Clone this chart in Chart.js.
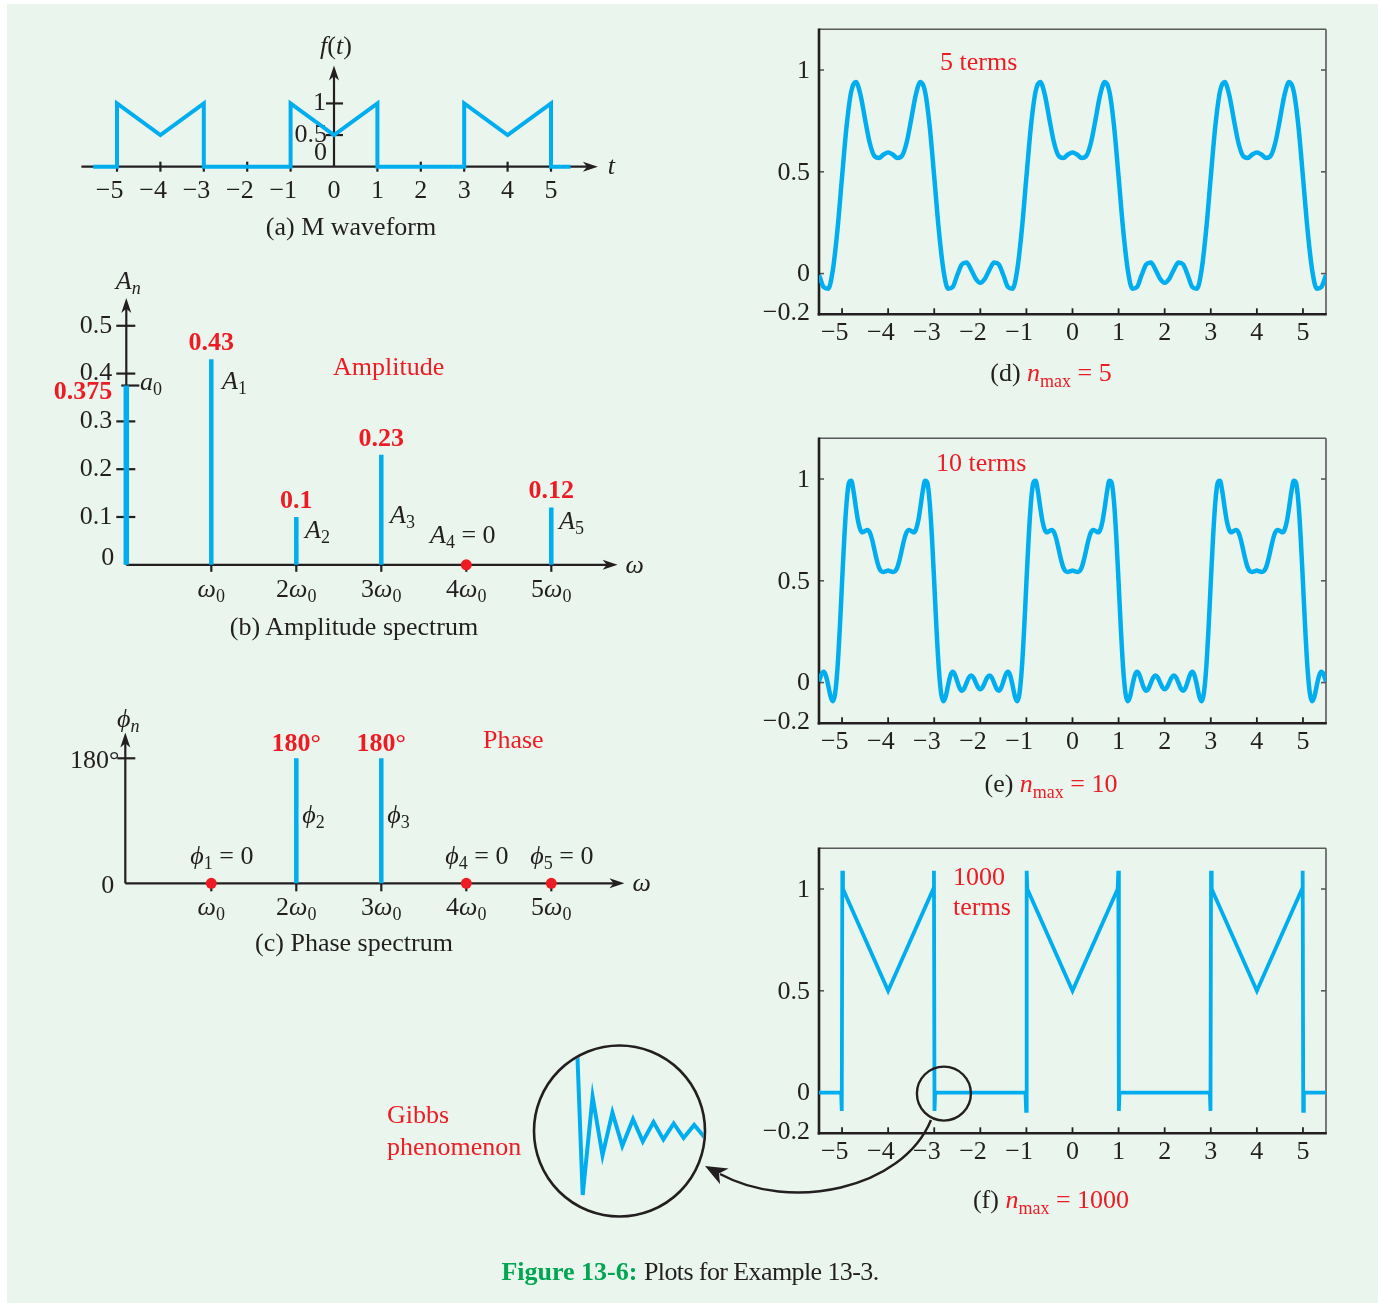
<!DOCTYPE html>
<html lang="en">
<head>
<meta charset="UTF-8">
<title>Figure 13-6: Plots for Example 13-3</title>
<script src="https://cdn.jsdelivr.net/npm/chart.js"></script>
<style>
  html, body { margin: 0; padding: 0; background: #fff; }
  #page { position: relative; width: 1378px; height: 1303px; overflow: hidden; background: #fff;
          font-family: "Liberation Serif", "Times New Roman", serif; color: #231F20; }
  #bg { position: absolute; left: 7px; top: 4px; right: 0; bottom: 0; background: #EAF5EE; }
  canvas.layer { position: absolute; left: 0; top: 0; }
  .cap { position: absolute; font-size: 26px; line-height: 1; white-space: nowrap; transform: translate(-50%, -50%); }
  .lbl { position: absolute; font-size: 26px; line-height: 1; white-space: nowrap; transform: translateY(-50%); }
  .red { color: #ED1C24; }
  sub { font-size: 18px; vertical-align: -6px; line-height: 0; }
</style>
</head>
<body>
<div id="page">
  <div id="bg"></div>
  <canvas id="cA" class="layer" width="1378" height="1303"></canvas>
  <canvas id="cB" class="layer" width="1378" height="1303"></canvas>
  <canvas id="cC" class="layer" width="1378" height="1303"></canvas>
  <canvas id="cD" class="layer" width="1378" height="1303"></canvas>
  <canvas id="cE" class="layer" width="1378" height="1303"></canvas>
  <canvas id="cF" class="layer" width="1378" height="1303"></canvas>
  <canvas id="cG" class="layer" width="1378" height="1303"></canvas>

  <!-- captions -->
  <div class="cap" style="left:351px;top:227px">(a) M waveform</div>
  <div class="cap" style="left:354px;top:627px">(b) Amplitude spectrum</div>
  <div class="cap" style="left:354px;top:943px">(c) Phase spectrum</div>
  <div class="cap" style="left:1051px;top:373px">(d) <span class="red"><i>n</i><sub>max</sub> = 5</span></div>
  <div class="cap" style="left:1051px;top:784px">(e) <span class="red"><i>n</i><sub>max</sub> = 10</span></div>
  <div class="cap" style="left:1051px;top:1200px">(f) <span class="red"><i>n</i><sub>max</sub> = 1000</span></div>

  <div class="lbl red" style="left:940px;top:62px">5 terms</div>
  <div class="lbl red" style="left:936px;top:463px">10 terms</div>
  <div class="lbl red" style="left:953px;top:877px">1000</div>
  <div class="lbl red" style="left:953px;top:907px">terms</div>
  <div class="lbl red" style="left:333px;top:367px">Amplitude</div>
  <div class="lbl red" style="left:483px;top:740px">Phase</div>
  <div class="lbl red" style="left:387px;top:1115px">Gibbs</div>
  <div class="lbl red" style="left:387px;top:1147px">phenomenon</div>

  <div class="cap" style="left:690px;top:1272px"><b style="color:#00A651">Figure 13-6:</b> <span style="letter-spacing:-0.6px">Plots for Example 13-3.</span></div>
</div>

<script>
    const W = 1378, H = 1303;
    const INK = '#231F20', BLUE = '#00AEEF', RED = '#ED1C24';
    const SERIF = '"Liberation Serif", "Times New Roman", serif';

    // (a) M waveform
    const mT = [-5.55, -5, -5, -4, -3, -3, -1, -1, 0, 1, 1, 3, 3, 4, 5, 5, 5.45];
    const mF = [0, 0, 1, 0.5, 1, 0, 0, 1, 0.5, 1, 0, 0, 1, 0.5, 1, 0, 0];
    const waveTicks = [-5, -4, -3, -2, -1, 0, 1, 2, 3, 4, 5];
    const waveLevels = [0.5, 1];

    // (b) amplitude and (c) phase spectra
    const harmonics = [1, 2, 3, 4, 5];
    const dcTerm = 0.375;
    const amps = [0.43, 0.1, 0.23, 0, 0.12];
    const ampTicks = [0.1, 0.2, 0.3, 0.4, 0.5];
    const phases = [0, 180, 180, 0, 0];

    // (d) 5 terms, sampled every 0.1 from t = -5.5
    const stepD = 0.1;
    const yD = [
        -0.007, -0.066, -0.074, 0.017, 0.214, 0.475, 0.727, 0.895, 0.941, 0.878, 0.757, 0.643, 0.578, 0.568, 0.585, 0.595,
        0.585, 0.568, 0.578, 0.643, 0.757, 0.878, 0.941, 0.895, 0.727, 0.475, 0.214, 0.017, -0.074, -0.066, -0.007, 0.045, 0.054, 0.020, -0.025, -0.045,
        -0.025, 0.020, 0.054, 0.045, -0.007, -0.066, -0.074, 0.017, 0.214, 0.475, 0.727, 0.895, 0.941, 0.878, 0.757, 0.643, 0.578, 0.568, 0.585, 0.595,
        0.585, 0.568, 0.578, 0.643, 0.757, 0.878, 0.941, 0.895, 0.727, 0.475, 0.214, 0.017, -0.074, -0.066, -0.007, 0.045, 0.054, 0.020, -0.025, -0.045,
        -0.025, 0.020, 0.054, 0.045, -0.007, -0.066, -0.074, 0.017, 0.214, 0.475, 0.727, 0.895, 0.941, 0.878, 0.757, 0.643, 0.578, 0.568, 0.585, 0.595,
        0.585, 0.568, 0.578, 0.643, 0.757, 0.878, 0.941, 0.895, 0.727, 0.475, 0.214, 0.017, -0.074, -0.066, -0.007
    ];

    // (e) 10 terms, sampled every 0.05 from t = -5.5
    const stepE = 0.05;
    const yE = [
        0.005, 0.039, 0.053, 0.034, -0.014, -0.068, -0.092, -0.053, 0.067, 0.260, 0.492, 0.716, 0.889, 0.981, 0.991, 0.939,
        0.861, 0.791, 0.749, 0.738, 0.745, 0.750, 0.738, 0.704, 0.655, 0.605, 0.566, 0.547, 0.543, 0.547, 0.550,
        0.547, 0.543, 0.547, 0.566, 0.605, 0.655, 0.704, 0.738, 0.750, 0.745, 0.738, 0.749, 0.791, 0.861, 0.939, 0.991,
        0.981, 0.889, 0.716, 0.492, 0.260, 0.067, -0.053, -0.092, -0.068, -0.014, 0.034, 0.053, 0.039, 0.005, -0.027,
        -0.040, -0.029, -0.002, 0.024, 0.035, 0.025, 0.001, -0.023, -0.033,
        -0.023, 0.001, 0.025, 0.035, 0.024, -0.002, -0.029, -0.040, -0.027, 0.005, 0.039, 0.053, 0.034, -0.014, -0.068,
        -0.092, -0.053, 0.067, 0.260, 0.492, 0.716, 0.889, 0.981, 0.991, 0.939, 0.861, 0.791, 0.749, 0.738, 0.745, 0.750,
        0.738, 0.704, 0.655, 0.605, 0.566, 0.547, 0.543, 0.547, 0.550,
        0.547, 0.543, 0.547, 0.566, 0.605, 0.655, 0.704, 0.738, 0.750, 0.745, 0.738, 0.749, 0.791, 0.861, 0.939, 0.991,
        0.981, 0.889, 0.716, 0.492, 0.260, 0.067, -0.053, -0.092, -0.068, -0.014, 0.034, 0.053, 0.039, 0.005, -0.027,
        -0.040, -0.029, -0.002, 0.024, 0.035, 0.025, 0.001, -0.023, -0.033,
        -0.023, 0.001, 0.025, 0.035, 0.024, -0.002, -0.029, -0.040, -0.027, 0.005, 0.039, 0.053, 0.034, -0.014, -0.068,
        -0.092, -0.053, 0.067, 0.260, 0.492, 0.716, 0.889, 0.981, 0.991, 0.939, 0.861, 0.791, 0.749, 0.738, 0.745, 0.750,
        0.738, 0.704, 0.655, 0.605, 0.566, 0.547, 0.543, 0.547, 0.550,
        0.547, 0.543, 0.547, 0.566, 0.605, 0.655, 0.704, 0.738, 0.750, 0.745, 0.738, 0.749, 0.791, 0.861, 0.939, 0.991,
        0.981, 0.889, 0.716, 0.492, 0.260, 0.067, -0.053, -0.092, -0.068, -0.014, 0.034, 0.053, 0.039, 0.005
    ];

    // (f) 1000 terms
    const tF = [-5.5, -5.02, -5.006, -4.994, -4.98, -4, -3.02, -3.006, -2.994, -2.98, -1.02, -1.006, -0.994, -0.98, 0,
                0.98, 0.994, 1.006, 1.02, 2.98, 2.994, 3.006, 3.02, 4, 4.98, 4.994, 5.006, 5.02, 5.5];
    const yF = [0, 0, -0.09, 1.09, 1.0, 0.5, 1.0, 1.09, -0.09, 0, 0, -0.09, 1.09, 1.0, 0.5,
                1.0, 1.09, -0.09, 0, 0, -0.09, 1.09, 1.0, 0.5, 1.0, 1.09, -0.09, 0, 0];
    const reconTicks = [-0.2, 0, 0.5, 1];

    // magnified ripple after the drop at t = -3
    const gibbsX = [0, 0.63, 1.62, 2.61, 3.6, 4.59, 5.66, 6.64, 7.71, 8.7, 9.73, 10.72, 11.78, 12.69, 13.7];
    const gibbsY = [0.14, -0.090, 0.046, -0.035, 0.024, -0.022, 0.015, -0.016, 0.011, -0.013, 0.009, -0.011, 0.007, -0.008, 0.006];

    const fmt = v => (v < 0 ? '\u2212' + Math.abs(v) : String(v));
    const pts = (xs, ys) => xs.map((x, i) => ({ x, y: ys[i] }));

    function fontFor(kind, size) {
        const sub = kind[0] === 's';
        const s = sub ? Math.round(size * 0.7) : size;
        return (kind.includes('i') ? 'italic ' : '') + (kind.includes('b') ? 'bold ' : '') + s + 'px ' + SERIF;
    }

    function rich(ctx, runs, x, y, o = {}) {
        const size = o.size || 26;
        ctx.save();
        ctx.fillStyle = o.color || INK;
        ctx.textBaseline = 'middle';
        ctx.textAlign = 'left';
        let total = 0;
        const widths = runs.map(([s, k]) => {
            ctx.font = fontFor(k, size);
            const w = ctx.measureText(s).width;
            total += w;
            return w;
        });
        let cx = o.align === 'center' ? x - total / 2 : o.align === 'right' ? x - total : x;
        runs.forEach(([s, k], i) => {
            ctx.font = fontFor(k, size);
            ctx.fillText(s, cx, y + (k[0] === 's' ? size * 0.28 : 0));
            cx += widths[i];
        });
        ctx.restore();
    }

    // digit centred on the tick, minus sign hanging to the left
    function numLabel(ctx, s, x, y) {
        ctx.save();
        ctx.font = '26px ' + SERIF;
        ctx.fillStyle = INK;
        ctx.textBaseline = 'middle';
        if (s[0] === '\u2212') {
            const wb = ctx.measureText(s.slice(1)).width;
            ctx.textAlign = 'right';
            ctx.fillText(s, x + wb / 2, y);
        } else {
            ctx.textAlign = 'center';
            ctx.fillText(s, x, y);
        }
        ctx.restore();
    }

    function seg(ctx, x1, y1, x2, y2) {
        ctx.beginPath(); ctx.moveTo(x1, y1); ctx.lineTo(x2, y2); ctx.stroke();
    }

    function head(ctx, x, y, dx, dy, len = 15, half = 5) {
        const px = -dy, py = dx;
        ctx.beginPath();
        ctx.moveTo(x, y);
        ctx.lineTo(x - dx * len + px * half, y - dy * len + py * half);
        ctx.lineTo(x - dx * len * 0.72, y - dy * len * 0.72);
        ctx.lineTo(x - dx * len - px * half, y - dy * len - py * half);
        ctx.closePath();
        ctx.fill();
    }

    const omegaLabel = n => (n === 1 ? [] : [[String(n), 'r']]).concat([['\u03c9', 'i'], ['0', 's']]);

    function baseOptions(box, xr, yr) {
        return {
            responsive: false,
            animation: false,
            devicePixelRatio: 1,
            events: [],
            layout: { padding: { left: box[0], top: box[1], right: W - box[2], bottom: H - box[3] } },
            plugins: { legend: { display: false }, tooltip: { enabled: false } },
            scales: {
                x: { type: 'linear', display: false, min: xr[0], max: xr[1] },
                y: { type: 'linear', display: false, min: yr[0], max: yr[1] }
            }
        };
    }

    const lineSet = (data, extra = {}) => Object.assign({
        data, showLine: true, borderColor: BLUE, borderWidth: 4, pointRadius: 0,
        borderCapStyle: 'butt', borderJoinStyle: 'miter', fill: false
    }, extra);

    const dotSet = data => ({
        data, showLine: false, pointRadius: 5.5, pointBackgroundColor: RED, pointBorderWidth: 0
    });

    // ---------- (a) ----------
    const decorA = {
        id: 'decorA',
        beforeDatasetsDraw(chart) {
            const { ctx, scales: { x, y } } = chart;
            const X = v => x.getPixelForValue(v), Y = v => y.getPixelForValue(v);
            ctx.save();
            ctx.strokeStyle = INK; ctx.fillStyle = INK; ctx.lineWidth = 2.2;
            seg(ctx, X(-5.82), Y(0), X(6.08) - 10, Y(0));
            head(ctx, X(6.08), Y(0), 1, 0);
            seg(ctx, X(0), Y(0), X(0), Y(1.6) + 10);
            head(ctx, X(0), Y(1.6), 0, -1);
            waveTicks.forEach(t => { if (t !== 0) seg(ctx, X(t), Y(0) - 5, X(t), Y(0) + 5); });
            waveLevels.forEach(v => seg(ctx, X(0) - 8, Y(v), X(0) + 9, Y(v)));
            waveTicks.forEach(t => numLabel(ctx, fmt(t), X(t), Y(0) + 24));
            rich(ctx, [['1', 'r']], X(0) - 8, Y(1), { align: 'right' });
            rich(ctx, [['0.5', 'r']], X(0) - 7, Y(0.5), { align: 'right' });
            rich(ctx, [['0', 'r']], X(0) - 7, Y(0) - 14, { align: 'right' });
            rich(ctx, [['f', 'i'], ['(', 'r'], ['t', 'i'], [')', 'r']], X(0) + 2, Y(1.6) - 18, { align: 'center' });
            rich(ctx, [['t', 'i']], X(6.08) + 10, Y(0), {});
            ctx.restore();
        }
    };
    new Chart(document.getElementById('cA'), {
        type: 'scatter',
        data: { datasets: [lineSet(pts(mT, mF), { borderWidth: 4 })] },
        options: Object.assign(baseOptions([73.6, 64.2, 616.1, 192.0], [-6, 6.5], [-0.4, 1.62]), {}),
        plugins: [decorA]
    });

    // ---------- (b) ----------
    const decorB = {
        id: 'decorB',
        beforeDatasetsDraw(chart) {
            const { ctx, scales: { x, y } } = chart;
            const X = v => x.getPixelForValue(v), Y = v => y.getPixelForValue(v);
            ctx.save();
            ctx.strokeStyle = INK; ctx.fillStyle = INK; ctx.lineWidth = 2.2;
            seg(ctx, X(0), Y(0), X(5.78) - 10, Y(0));
            head(ctx, X(5.78), Y(0), 1, 0);
            seg(ctx, X(0), Y(0), X(0), Y(0.558) + 10);
            head(ctx, X(0), Y(0.558), 0, -1);
            ampTicks.forEach(v => seg(ctx, X(0) - 10, Y(v), X(0) + 9, Y(v)));
            seg(ctx, X(0) - 5, Y(dcTerm), X(0) + 13, Y(dcTerm));
            harmonics.forEach(n => seg(ctx, X(n), Y(0), X(n), Y(0) + 7));
            ctx.restore();
        },
        afterDraw(chart) {
            const { ctx, scales: { x, y } } = chart;
            const X = v => x.getPixelForValue(v), Y = v => y.getPixelForValue(v);
            ampTicks.forEach(v => rich(ctx, [[String(v), 'r']], X(0) - 14, Y(v), { align: 'right' }));
            rich(ctx, [['0', 'r']], X(0) - 12, Y(0) - 7, { align: 'right' });
            harmonics.forEach(n => rich(ctx, omegaLabel(n), X(n), Y(0) + 25, { align: 'center' }));
            rich(ctx, [['\u03c9', 'i']], X(5.78) + 8, Y(0) + 1, {});
            rich(ctx, [['A', 'i'], ['n', 'si']], X(0) + 2, 282, { align: 'center' });
            // value labels
            rich(ctx, [[String(dcTerm), 'b']], X(0) - 14, 392, { align: 'right', color: RED });
            harmonics.forEach((n, i) => {
                if (amps[i] > 0) rich(ctx, [[String(amps[i]), 'b']], X(n), Y(amps[i]) - 16, { align: 'center', color: RED });
            });
            rich(ctx, [['a', 'i'], ['0', 's']], 140, 383, {});
            rich(ctx, [['A', 'i'], ['1', 's']], 222, 382, {});
            rich(ctx, [['A', 'i'], ['2', 's']], 305, 531, {});
            rich(ctx, [['A', 'i'], ['3', 's']], 390, 516, {});
            rich(ctx, [['A', 'i'], ['4', 's'], [' = 0', 'r']], 430, 536, {});
            rich(ctx, [['A', 'i'], ['5', 's']], 559, 522, {});
        }
    };
    const ampStems = [lineSet([{ x: 0, y: 0 }, { x: 0, y: dcTerm }], { borderWidth: 5.5 })]
        .concat(harmonics.filter((n, i) => amps[i] > 0)
            .map(n => lineSet([{ x: n, y: 0 }, { x: n, y: amps[n - 1] }], { borderWidth: 4.5 })));
    new Chart(document.getElementById('cB'), {
        type: 'scatter',
        data: {
            datasets: ampStems.concat([dotSet(harmonics.filter((n, i) => amps[i] === 0).map(n => ({ x: n, y: 0 })))])
        },
        options: baseOptions([83.8, 297.1, 636.3, 612.6], [-0.5, 6.0], [-0.1, 0.56]),
        plugins: [decorB]
    });

    // ---------- (c) ----------
    const decorC = {
        id: 'decorC',
        beforeDatasetsDraw(chart) {
            const { ctx, scales: { x, y } } = chart;
            const X = v => x.getPixelForValue(v), Y = v => y.getPixelForValue(v);
            ctx.save();
            ctx.strokeStyle = INK; ctx.fillStyle = INK; ctx.lineWidth = 2.2;
            seg(ctx, X(0) - 1, Y(0), X(5.86) - 10, Y(0));
            head(ctx, X(5.86), Y(0), 1, 0);
            seg(ctx, X(0) - 1, Y(0), X(0) - 1, Y(217) + 10);
            head(ctx, X(0) - 1, Y(217), 0, -1);
            seg(ctx, X(0) - 9, Y(180), X(0) + 9, Y(180));
            harmonics.forEach(n => seg(ctx, X(n), Y(0), X(n), Y(0) + 8));
            ctx.restore();
        },
        afterDraw(chart) {
            const { ctx, scales: { x, y } } = chart;
            const X = v => x.getPixelForValue(v), Y = v => y.getPixelForValue(v);
            rich(ctx, [['180\u00b0', 'r']], X(0) - 7, Y(180) + 3, { align: 'right' });
            rich(ctx, [['0', 'r']], X(0) - 12, Y(0) + 3, { align: 'right' });
            harmonics.forEach(n => rich(ctx, omegaLabel(n), X(n), Y(0) + 25, { align: 'center' }));
            rich(ctx, [['\u03c9', 'i']], X(5.86) + 8, Y(0) + 1, {});
            rich(ctx, [['\u03d5', 'i'], ['n', 'si']], X(0) + 2, 720, { align: 'center' });
            harmonics.forEach((n, i) => {
                if (phases[i] > 0) {
                    rich(ctx, [[phases[i] + '\u00b0', 'b']], X(n), Y(phases[i]) - 14, { align: 'center', color: RED });
                    rich(ctx, [['\u03d5', 'i'], [String(n), 's']], X(n) + 6, 816, {});
                } else {
                    rich(ctx, [['\u03d5', 'i'], [String(n), 's'], [' = 0', 'r']], X(n) - 21, 857, {});
                }
            });
        }
    };
    const phaseStems = harmonics.filter((n, i) => phases[i] > 0)
        .map(n => lineSet([{ x: n, y: 0 }, { x: n, y: phases[n - 1] }], { borderWidth: 4.5 }));
    new Chart(document.getElementById('cC'), {
        type: 'scatter',
        data: {
            datasets: phaseStems.concat([dotSet(harmonics.filter((n, i) => phases[i] === 0).map(n => ({ x: n, y: 0 })))])
        },
        options: baseOptions([83.8, 732.6, 636.3, 911.1], [-0.5, 6.0], [-40, 217]),
        plugins: [decorC]
    });

    // ---------- (d), (e), (f) ----------
    function reconDecor(id, extra) {
        return {
            id,
            beforeDatasetsDraw(chart) {
                const { ctx, chartArea: a, scales: { x, y } } = chart;
                const X = v => x.getPixelForValue(v), Y = v => y.getPixelForValue(v);
                ctx.save();
                ctx.strokeStyle = '#58595B'; ctx.lineWidth = 1.6;
                seg(ctx, a.left, a.top, a.right, a.top);
                seg(ctx, a.right, a.top, a.right, a.bottom);
                reconTicks.forEach(v => {
                    if (v > -0.2) {
                        seg(ctx, a.left, Y(v), a.left + 5, Y(v));
                        seg(ctx, a.right - 5, Y(v), a.right, Y(v));
                    }
                });
                ctx.strokeStyle = INK; ctx.lineWidth = 1.8;
                waveTicks.forEach(t => seg(ctx, X(t), a.bottom, X(t), a.bottom - 6));
                ctx.lineWidth = 2.6;
                seg(ctx, a.left, a.top - 0.8, a.left, a.bottom + 1.3);
                seg(ctx, a.left - 1.3, a.bottom, a.right + 0.8, a.bottom);
                reconTicks.forEach(v => rich(ctx, [[fmt(v), 'r']], a.left - 9, Y(v) + (v < 0 ? -1 : 1), { align: 'right' }));
                waveTicks.forEach(t => numLabel(ctx, fmt(t), X(t), a.bottom + 19));
                ctx.restore();
            },
            afterDraw: extra
        };
    }

    const tD = yD.map((v, i) => +(-5.5 + i * stepD).toFixed(3));
    const tE = yE.map((v, i) => +(-5.5 + i * stepE).toFixed(3));
    const reconBox = top => [819, top, 1326, top + 285];

    new Chart(document.getElementById('cD'), {
        type: 'scatter',
        data: { datasets: [lineSet(pts(tD, yD), { borderWidth: 4.5, cubicInterpolationMode: 'monotone', borderJoinStyle: 'round' })] },
        options: baseOptions(reconBox(29.3), [-5.5, 5.5], [-0.2, 1.2]),
        plugins: [reconDecor('decorD')]
    });

    new Chart(document.getElementById('cE'), {
        type: 'scatter',
        data: { datasets: [lineSet(pts(tE, yE), { borderWidth: 4.5, cubicInterpolationMode: 'monotone', borderJoinStyle: 'round' })] },
        options: baseOptions(reconBox(438.3), [-5.5, 5.5], [-0.2, 1.2]),
        plugins: [reconDecor('decorE')]
    });

    new Chart(document.getElementById('cF'), {
        type: 'scatter',
        data: { datasets: [lineSet(pts(tF, yF), { borderWidth: 3.8 })] },
        options: baseOptions(reconBox(848.3), [-5.5, 5.5], [-0.2, 1.2]),
        plugins: [reconDecor('decorF', chart => {
            const { ctx, scales: { x, y } } = chart;
            ctx.save();
            ctx.strokeStyle = INK; ctx.lineWidth = 2.4;
            ctx.beginPath();
            ctx.arc(x.getPixelForValue(-2.79), y.getPixelForValue(0) + 1, 27, 0, Math.PI * 2);
            ctx.stroke();
            ctx.restore();
        })]
    });

    // ---------- Gibbs inset ----------
    const decorG = {
        id: 'decorG',
        beforeDatasetsDraw(chart) {
            const { ctx, chartArea: a } = chart;
            ctx.save();
            ctx.beginPath();
            ctx.arc((a.left + a.right) / 2, (a.top + a.bottom) / 2, (a.right - a.left) / 2 - 1.5, 0, Math.PI * 2);
            ctx.clip();
        },
        afterDatasetsDraw(chart) {
            const { ctx, chartArea: a } = chart;
            ctx.restore();
            ctx.save();
            ctx.strokeStyle = INK; ctx.fillStyle = INK; ctx.lineWidth = 2.6;
            ctx.beginPath();
            ctx.arc((a.left + a.right) / 2, (a.top + a.bottom) / 2, (a.right - a.left) / 2, 0, Math.PI * 2);
            ctx.stroke();
            // curved pointer from the small circle on (f)
            ctx.lineWidth = 2.4;
            ctx.beginPath();
            ctx.moveTo(931, 1120);
            ctx.bezierCurveTo(902, 1190, 790, 1212, 720, 1174);
            ctx.stroke();
            const dx = -0.88, dy = -0.475;
            head(ctx, 705, 1166, dx, dy, 22, 9);
            ctx.restore();
        }
    };
    new Chart(document.getElementById('cG'), {
        type: 'scatter',
        data: { datasets: [lineSet(pts(gibbsX, gibbsY), { borderWidth: 4 })] },
        options: baseOptions([534, 1045.5, 705, 1216.5], [-4.24, 12.86], [-0.1198, 0.117]),
        plugins: [decorG]
    });
</script>
</body>
</html>
